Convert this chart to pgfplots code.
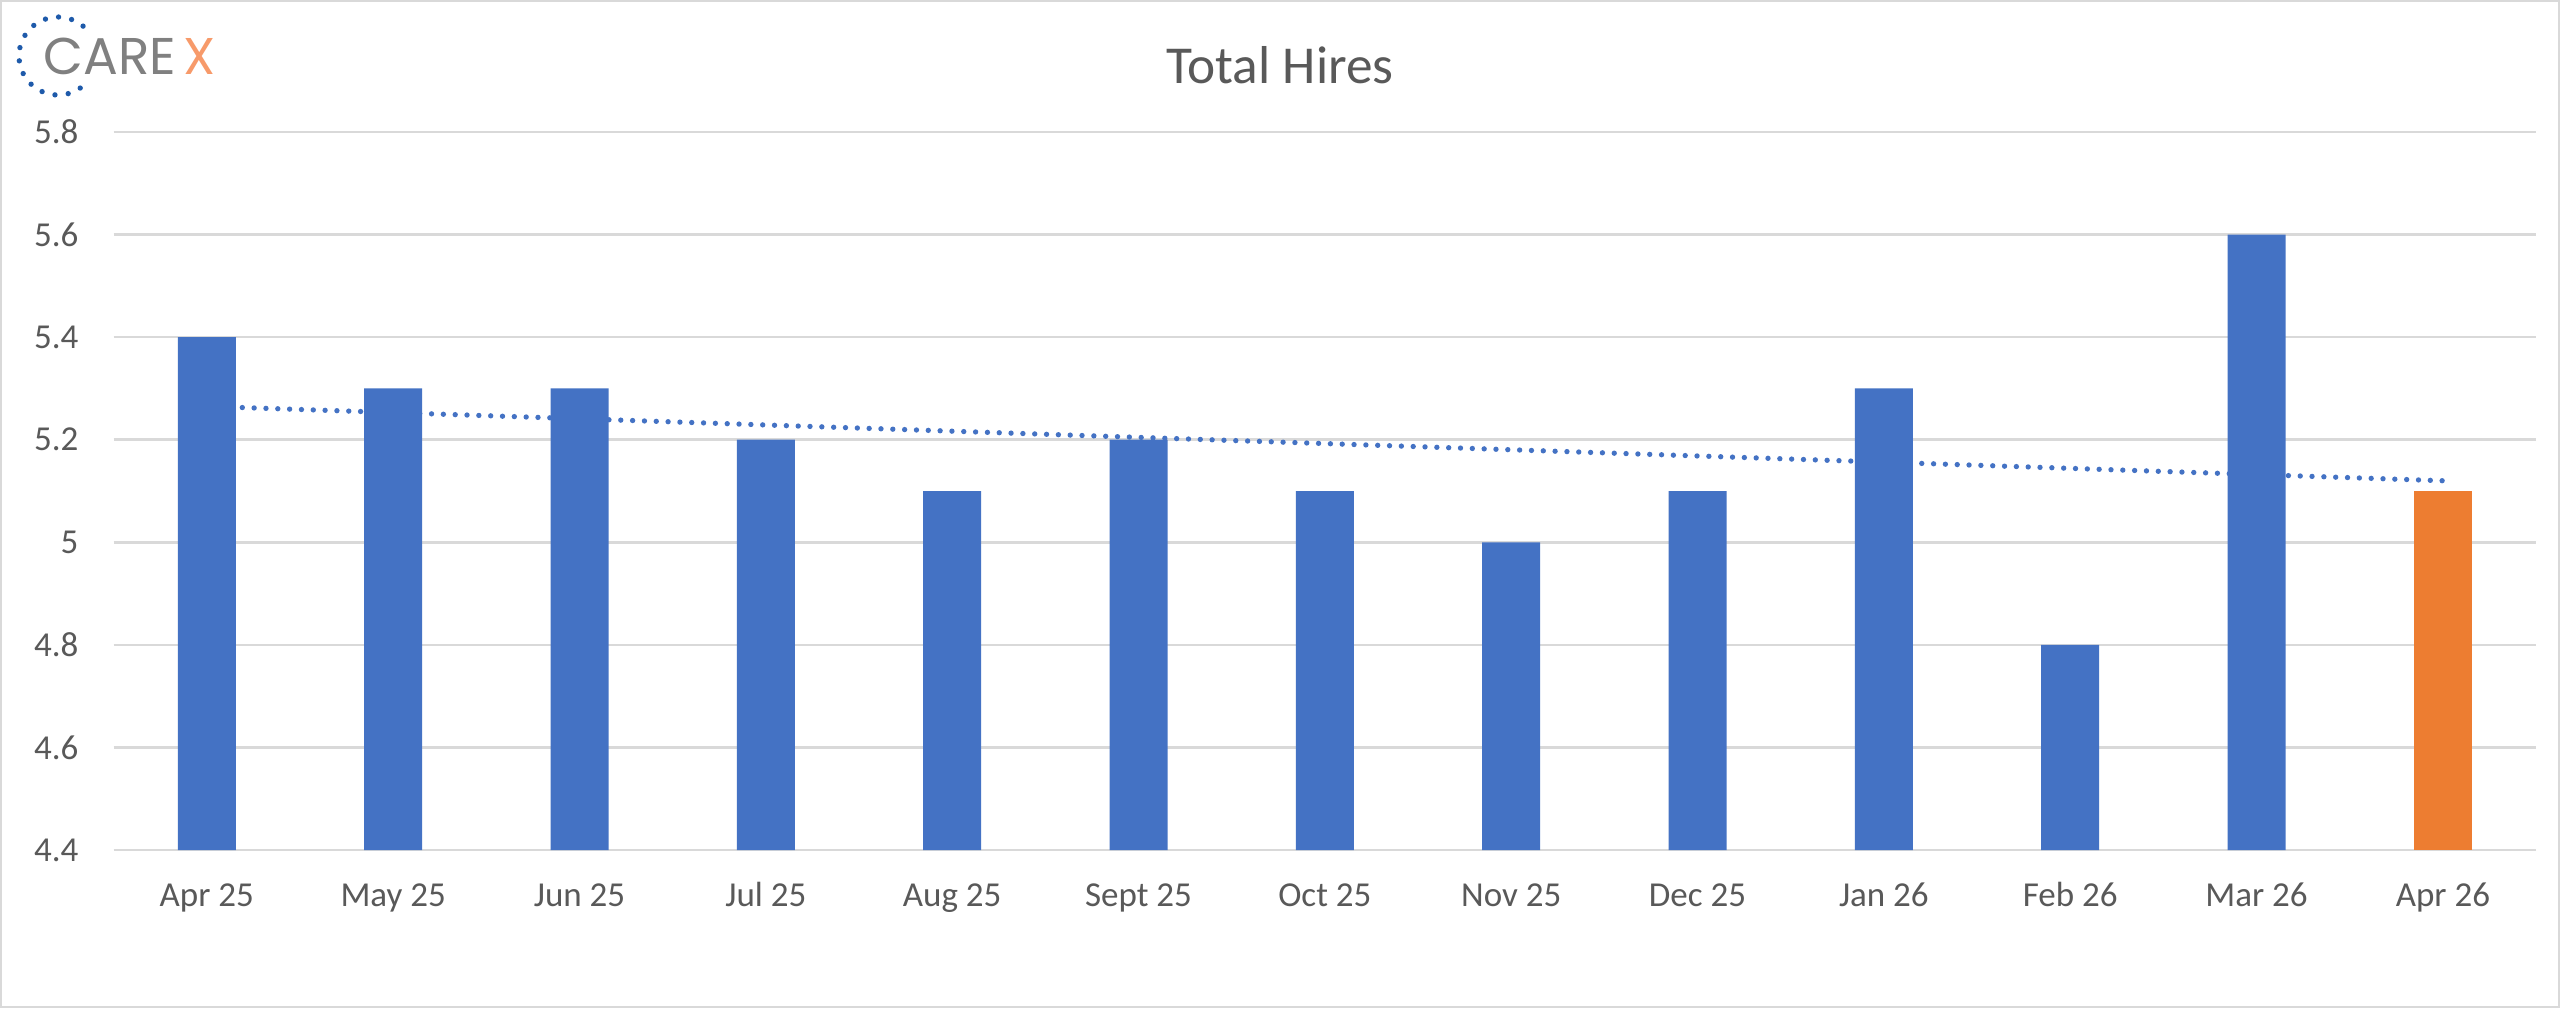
\documentclass[border=0pt]{standalone}
\usepackage{fontspec}
\setmainfont{Carlito}
\newfontfamily\logofont{Poppins}
\usepackage{pgfplots}
\pgfplotsset{compat=1.18}
\definecolor{barblue}{HTML}{4472C4}
\definecolor{barorange}{HTML}{ED7D31}
\definecolor{gridgray}{HTML}{D9D9D9}
\definecolor{txtgray}{HTML}{595959}
\definecolor{logoblue}{HTML}{1E5AAA}
\definecolor{logogray}{HTML}{808080}
\definecolor{logoorange}{HTML}{F79A6A}
\begin{document}
\begin{tikzpicture}[x=1bp,y=1bp]
\useasboundingbox (0,0) rectangle (768,302.4);
\fill[white] (0,0) rectangle (768,302.4);
\draw[gridgray, line width=0.75bp] (0.375,0.375) rectangle (767.625,302.025);
% logo
\draw[logoblue, line width=1.6bp, line cap=round, dash pattern=on 0bp off 4.0bp]
  (17.4,285.6) ++(50:11.7) arc[start angle=50, end angle=305, radius=11.7];
\node[anchor=base west, inner sep=0pt, text=logogray, font=\logofont\fontsize{15.5bp}{16bp}\selectfont] (care) at (12.9,280.2) {CARE};
\node[anchor=base west, inner sep=0pt, text=logoorange, font=\logofont\fontsize{15.5bp}{16bp}\selectfont] at ([xshift=1.8bp]care.base east) {X};
% title
\node[anchor=base, inner sep=0pt, text=txtgray, font=\fontsize{16bp}{19bp}\selectfont] at (384,277.4) {Total Hires};
\begin{axis}[
  at={(34.1bp,47.4bp)}, anchor=south west,
  scale only axis, width=726.7bp, height=215.4bp,
  xmin=-0.5, xmax=12.5, ymin=4.4, ymax=5.8,
  ytick={4.4,4.6,4.8,5,5.2,5.4,5.6,5.8},
  xtick={0,1,2,3,4,5,6,7,8,9,10,11,12},
  xticklabels={Apr 25, May 25, Jun 25, Jul 25, Aug 25, Sept 25, Oct 25, Nov 25, Dec 25, Jan 26, Feb 26, Mar 26, Apr 26},
  axis line style={draw=none},
  major tick style={draw=none},
  ymajorgrids, grid style={gridgray, line width=0.75bp},
  tick label style={font=\fontsize{10.5bp}{12bp}\selectfont, text=txtgray},
  xticklabel style={anchor=base, inner sep=0pt, yshift=-17bp},
  yticklabel style={anchor=east, inner sep=0pt, xshift=-10.4bp},
  /pgf/number format/assume math mode=true,
]
\addplot[barblue, line width=1.6bp, line cap=round, dash pattern=on 0bp off 3.55bp] coordinates {(0,5.265) (12,5.120)};
\addplot[ybar, bar width=17.4bp, bar shift=0pt, fill=barblue, draw=none] coordinates {
(0,5.4) (1,5.3) (2,5.3) (3,5.2) (4,5.1) (5,5.2) (6,5.1) (7,5.0) (8,5.1) (9,5.3) (10,4.8) (11,5.6)};
\addplot[ybar, bar width=17.4bp, bar shift=0pt, fill=barorange, draw=none] coordinates {(12,5.1)};
\end{axis}
\end{tikzpicture}
\end{document}
